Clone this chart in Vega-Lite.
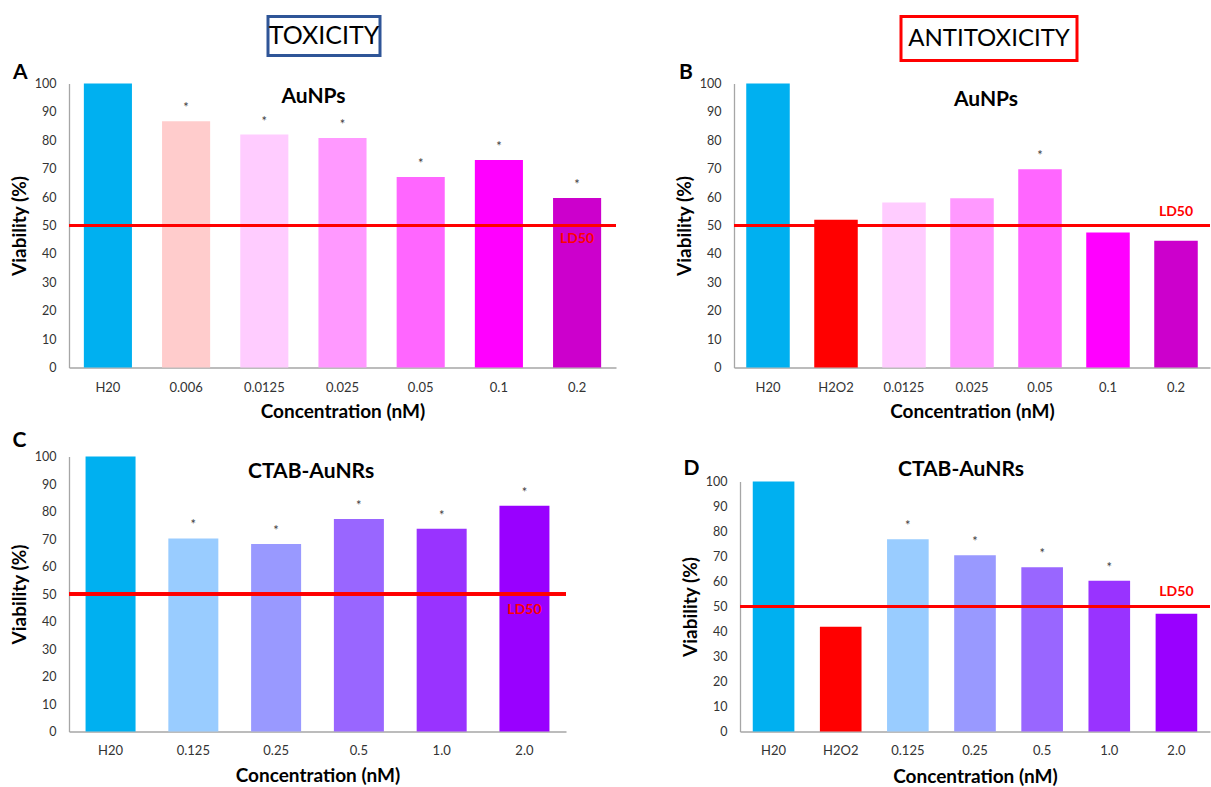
{
  "$schema": "https://vega.github.io/schema/vega-lite/v6.json",
  "padding": {"left": 10, "top": 14.5, "right": 0, "bottom": 0},
  "background": "white",
  "config": {
    "font": "Lato",
    "view": {"stroke": null},
    "axis": {"domainColor": "#A6A6A6", "domainWidth": 1.3, "ticks": false, "grid": false, "labelFont": "Lato", "labelColor": "#333333", "titleFont": "Lato", "titleFontSize": 19, "titleFontWeight": "bold", "titleColor": "#000000"},
    "axisX": {"labelAngle": 0, "labelFontSize": 13, "labelPadding": 14, "titlePadding": 8},
    "axisY": {"labelFontSize": 12.5, "labelPadding": 13, "titlePadding": 5}
  },
  "spacing": -1,
  "vconcat": [
    {
      "spacing": 0,
      "hconcat": [
        {"width": 197, "height": 1, "data": {"values": [{}]}, "mark": {"type": "text", "text": "", "fontSize": 1}, "encoding": {}},
        {"width": 112, "height": 39, "view": {"stroke": "#2F5597", "strokeWidth": 3}, "data": {"values": [{"t": "TOXICITY"}]}, "mark": {"type": "text", "fontSize": 25, "font": "Lato", "color": "#000000"}, "encoding": {"text": {"field": "t"}}},
        {"width": 517, "height": 1, "data": {"values": [{}]}, "mark": {"type": "text", "text": "", "fontSize": 1}, "encoding": {}},
        {"width": 176, "height": 44, "view": {"stroke": "#FF0000", "strokeWidth": 3}, "data": {"values": [{"t": "ANTITOXICITY"}]}, "mark": {"type": "text", "fontSize": 24, "font": "Lato", "color": "#000000"}, "encoding": {"text": {"field": "t"}}}
      ]
    },
    {
      "spacing": 8,
      "vconcat": [
        {
          "spacing": 57,
          "hconcat": [
            {
              "width": 547, "height": 284,
              "data": {"values": [
                {"c": "H20", "v": 100, "col": "#00B0F0", "sig": ""},
                {"c": "0.006", "v": 86.7, "col": "#FFCCCC", "sig": "*"},
                {"c": "0.0125", "v": 82.0, "col": "#FFCCFF", "sig": "*"},
                {"c": "0.025", "v": 80.8, "col": "#FF99FF", "sig": "*"},
                {"c": "0.05", "v": 67.1, "col": "#FF66FF", "sig": "*"},
                {"c": "0.1", "v": 73.1, "col": "#FF00FF", "sig": "*"},
                {"c": "0.2", "v": 59.7, "col": "#CC00CC", "sig": "*"}
              ]},
              "encoding": {
                "x": {"field": "c", "type": "nominal", "sort": null, "scale": {"paddingInner": 0.385, "paddingOuter": 0.19}, "axis": {"title": "Concentration (nM)"}},
                "y": {"field": "v", "type": "quantitative", "scale": {"domain": [0, 100], "nice": false}, "axis": {"title": "Viability (%)", "values": [0, 10, 20, 30, 40, 50, 60, 70, 80, 90, 100]}}
              },
              "layer": [
                {"mark": {"type": "bar"}, "encoding": {"color": {"field": "col", "type": "nominal", "scale": null}}},
                {"mark": {"type": "text", "dy": -9, "baseline": "alphabetic", "fontSize": 13, "color": "#404040"}, "encoding": {"text": {"field": "sig"}}},
                {"mark": {"type": "rule", "color": "#FF0000", "strokeWidth": 3}, "encoding": {"x": null, "y": {"datum": 50}}},
                {"transform": [{"filter": "datum.c === '0.2'"}], "mark": {"type": "text", "color": "#FF0000", "fontWeight": "bold", "fontSize": 14, "baseline": "top", "dy": 6}, "encoding": {"y": {"datum": 50}, "text": {"value": "LD50"}}},
                {"transform": [{"filter": "datum.c === '0.025'"}], "mark": {"type": "text", "color": "#000000", "fontWeight": "bold", "fontSize": 21, "baseline": "alphabetic", "dx": -29, "dy": 19}, "encoding": {"y": {"datum": 100}, "text": {"value": "AuNPs"}}},
                {"transform": [{"filter": "datum.c === 'H20'"}], "mark": {"type": "text", "color": "#000000", "fontWeight": "bold", "fontSize": 21, "align": "left", "baseline": "alphabetic", "dx": -95, "dy": -5}, "encoding": {"y": {"datum": 100}, "text": {"value": "A"}}}
              ]
            },
            {
              "width": 476, "height": 284,
              "data": {"values": [
                {"c": "H20", "v": 100, "col": "#00B0F0", "sig": ""},
                {"c": "H2O2", "v": 52.0, "col": "#FF0000", "sig": ""},
                {"c": "0.0125", "v": 58.1, "col": "#FFCCFF", "sig": ""},
                {"c": "0.025", "v": 59.6, "col": "#FF99FF", "sig": ""},
                {"c": "0.05", "v": 69.8, "col": "#FF66FF", "sig": "*"},
                {"c": "0.1", "v": 47.5, "col": "#FF00FF", "sig": ""},
                {"c": "0.2", "v": 44.6, "col": "#CC00CC", "sig": ""}
              ]},
              "encoding": {
                "x": {"field": "c", "type": "nominal", "sort": null, "scale": {"paddingInner": 0.36, "paddingOuter": 0.18}, "axis": {"title": "Concentration (nM)"}},
                "y": {"field": "v", "type": "quantitative", "scale": {"domain": [0, 100], "nice": false}, "axis": {"title": "Viability (%)", "values": [0, 10, 20, 30, 40, 50, 60, 70, 80, 90, 100]}}
              },
              "layer": [
                {"mark": {"type": "bar"}, "encoding": {"color": {"field": "col", "type": "nominal", "scale": null}}},
                {"mark": {"type": "text", "dy": -9, "baseline": "alphabetic", "fontSize": 13, "color": "#404040"}, "encoding": {"text": {"field": "sig"}}},
                {"mark": {"type": "rule", "color": "#FF0000", "strokeWidth": 3}, "encoding": {"x": null, "y": {"datum": 50}}},
                {"transform": [{"filter": "datum.c === '0.2'"}], "mark": {"type": "text", "color": "#FF0000", "fontWeight": "bold", "fontSize": 14, "baseline": "alphabetic", "dy": -10}, "encoding": {"y": {"datum": 50}, "text": {"value": "LD50"}}},
                {"transform": [{"filter": "datum.c === '0.025'"}], "mark": {"type": "text", "color": "#000000", "fontWeight": "bold", "fontSize": 21, "baseline": "alphabetic", "dx": 14, "dy": 22}, "encoding": {"y": {"datum": 100}, "text": {"value": "AuNPs"}}},
                {"transform": [{"filter": "datum.c === 'H20'"}], "mark": {"type": "text", "color": "#000000", "fontWeight": "bold", "fontSize": 21, "align": "left", "baseline": "alphabetic", "dx": -89, "dy": -5}, "encoding": {"y": {"datum": 100}, "text": {"value": "B"}}}
              ]
            }
          ]
        },
        {
          "spacing": 113,
          "hconcat": [
            {
              "width": 497, "height": 275,
              "data": {"values": [
                {"c": "H20", "v": 100, "col": "#00B0F0", "sig": ""},
                {"c": "0.125", "v": 70.2, "col": "#99CCFF", "sig": "*"},
                {"c": "0.25", "v": 68.2, "col": "#9999FF", "sig": "*"},
                {"c": "0.5", "v": 77.3, "col": "#9966FF", "sig": "*"},
                {"c": "1.0", "v": 73.7, "col": "#9933FF", "sig": "*"},
                {"c": "2.0", "v": 82.1, "col": "#9900FF", "sig": "*"}
              ]},
              "encoding": {
                "x": {"field": "c", "type": "nominal", "sort": null, "scale": {"paddingInner": 0.396, "paddingOuter": 0.2}, "axis": {"title": "Concentration (nM)", "labelPadding": 12.5, "titlePadding": 9}},
                "y": {"field": "v", "type": "quantitative", "scale": {"domain": [0, 100], "nice": false}, "axis": {"title": "Viability (%)", "values": [0, 10, 20, 30, 40, 50, 60, 70, 80, 90, 100]}}
              },
              "layer": [
                {"mark": {"type": "bar"}, "encoding": {"color": {"field": "col", "type": "nominal", "scale": null}}},
                {"mark": {"type": "text", "dy": -9, "baseline": "alphabetic", "fontSize": 13, "color": "#404040"}, "encoding": {"text": {"field": "sig"}}},
                {"mark": {"type": "rule", "color": "#FF0000", "strokeWidth": 3}, "encoding": {"x": null, "y": {"datum": 50}}},
                {"transform": [{"filter": "datum.c === '2.0'"}], "mark": {"type": "text", "color": "#FF0000", "fontWeight": "bold", "fontSize": 14, "baseline": "top", "dy": 9}, "encoding": {"y": {"datum": 50}, "text": {"value": "LD50"}}},
                {"transform": [{"filter": "datum.c === '0.25'"}], "mark": {"type": "text", "color": "#000000", "fontWeight": "bold", "fontSize": 21, "baseline": "alphabetic", "dx": 35, "dy": 21}, "encoding": {"y": {"datum": 100}, "text": {"value": "CTAB-AuNRs"}}},
                {"transform": [{"filter": "datum.c === 'H20'"}], "mark": {"type": "text", "color": "#000000", "fontWeight": "bold", "fontSize": 21, "align": "left", "baseline": "alphabetic", "dx": -98, "dy": -10}, "encoding": {"y": {"datum": 100}, "text": {"value": "C"}}}
              ]
            },
            {
              "spacing": 0,
              "vconcat": [
                {"width": 1, "height": 1, "data": {"values": [{}]}, "mark": {"type": "text", "text": "", "fontSize": 1}, "encoding": {}},
                {
                  "width": 470, "height": 250,
                  "data": {"values": [
                    {"c": "H20", "v": 100, "col": "#00B0F0", "sig": ""},
                    {"c": "H2O2", "v": 41.9, "col": "#FF0000", "sig": ""},
                    {"c": "0.125", "v": 76.9, "col": "#99CCFF", "sig": "*"},
                    {"c": "0.25", "v": 70.5, "col": "#9999FF", "sig": "*"},
                    {"c": "0.5", "v": 65.7, "col": "#9966FF", "sig": "*"},
                    {"c": "1.0", "v": 60.3, "col": "#9933FF", "sig": "*"},
                    {"c": "2.0", "v": 47.1, "col": "#9900FF", "sig": ""}
                  ]},
                  "encoding": {
                    "x": {"field": "c", "type": "nominal", "sort": null, "scale": {"paddingInner": 0.38, "paddingOuter": 0.19}, "axis": {"title": "Concentration (nM)", "labelPadding": 13, "titlePadding": 10}},
                    "y": {"field": "v", "type": "quantitative", "scale": {"domain": [0, 100], "nice": false}, "axis": {"title": "Viability (%)", "values": [0, 10, 20, 30, 40, 50, 60, 70, 80, 90, 100]}}
                  },
                  "layer": [
                    {"mark": {"type": "bar"}, "encoding": {"color": {"field": "col", "type": "nominal", "scale": null}}},
                    {"mark": {"type": "text", "dy": -9, "baseline": "alphabetic", "fontSize": 13, "color": "#404040"}, "encoding": {"text": {"field": "sig"}}},
                    {"mark": {"type": "rule", "color": "#FF0000", "strokeWidth": 3}, "encoding": {"x": null, "y": {"datum": 50}}},
                    {"transform": [{"filter": "datum.c === '2.0'"}], "mark": {"type": "text", "color": "#FF0000", "fontWeight": "bold", "fontSize": 14, "baseline": "alphabetic", "dy": -11}, "encoding": {"y": {"datum": 50}, "text": {"value": "LD50"}}},
                    {"transform": [{"filter": "datum.c === '0.25'"}], "mark": {"type": "text", "color": "#000000", "fontWeight": "bold", "fontSize": 21, "baseline": "alphabetic", "dx": -14, "dy": -6}, "encoding": {"y": {"datum": 100}, "text": {"value": "CTAB-AuNRs"}}},
                    {"transform": [{"filter": "datum.c === 'H20'"}], "mark": {"type": "text", "color": "#000000", "fontWeight": "bold", "fontSize": 21, "align": "left", "baseline": "alphabetic", "dx": -90, "dy": -7}, "encoding": {"y": {"datum": 100}, "text": {"value": "D"}}}
                  ]
                }
              ]
            }
          ]
        }
      ]
    }
  ]
}
